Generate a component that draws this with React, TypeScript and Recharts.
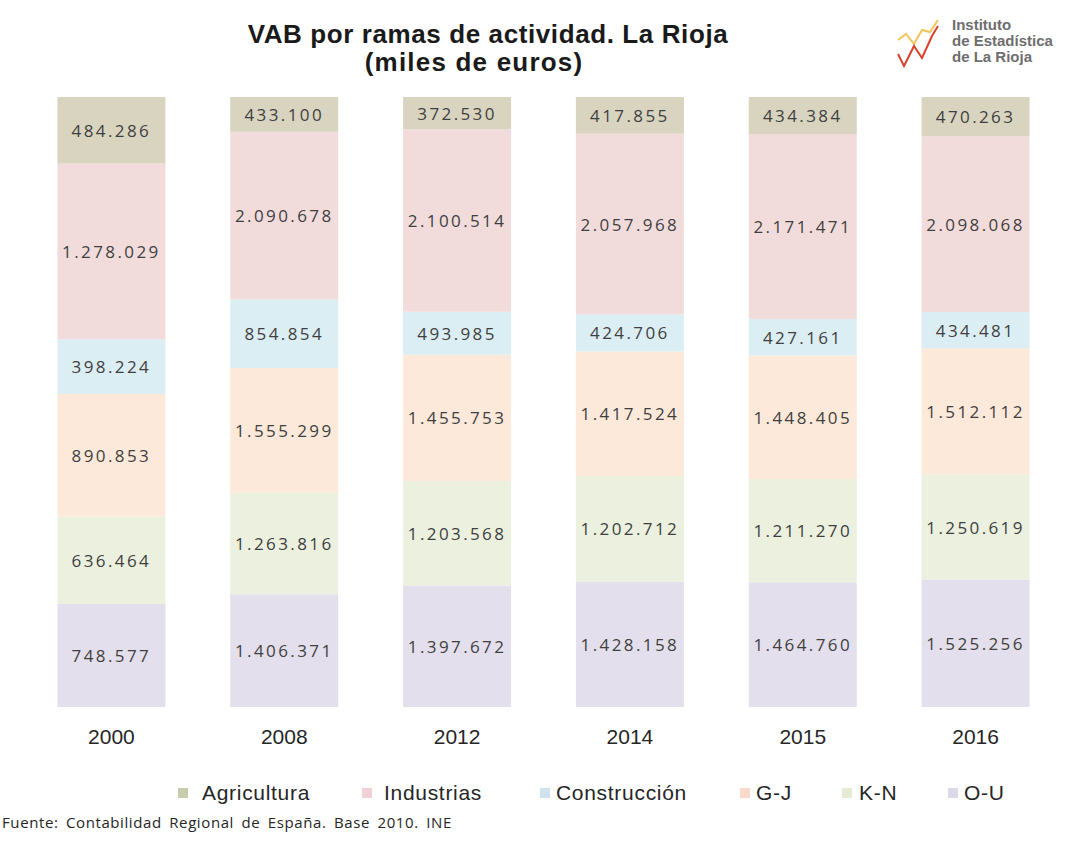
// Stacked 100% bar chart: VAB por ramas de actividad, La Rioja (miles de euros).
import { BarChart, Bar, XAxis, YAxis, LabelList } from "recharts";

const years = ["2000", "2008", "2012", "2014", "2015", "2016"];
const agricultura = [484286, 433100, 372530, 417855, 434384, 470263];
const industrias = [1278029, 2090678, 2100514, 2057968, 2171471, 2098068];
const construccion = [398224, 854854, 493985, 424706, 427161, 434481];
const gj = [890853, 1555299, 1455753, 1417524, 1448405, 1512112];
const kn = [636464, 1263816, 1203568, 1202712, 1211270, 1250619];
const ou = [748577, 1406371, 1397672, 1428158, 1464760, 1525256];

// bottom to top
const series = [
  { key: "ou", name: "O-U", values: ou, fill: "#E4DFEC", legend: "#DDD8E8" },
  { key: "kn", name: "K-N", values: kn, fill: "#EBF1DE", legend: "#E3EBD3" },
  { key: "gj", name: "G-J", values: gj, fill: "#FDE9DA", legend: "#F9D9CC" },
  { key: "cons", name: "Construcción", values: construccion, fill: "#DBEEF4", legend: "#CFE3EE" },
  { key: "ind", name: "Industrias", values: industrias, fill: "#F2DCDB", legend: "#F0D2D6" },
  { key: "agr", name: "Agricultura", values: agricultura, fill: "#D9D4C0", legend: "#C6CDAE" },
];

// legend layout (left to right: Agricultura ... O-U)
const legendMarkerX = [178, 362, 540, 740, 842, 948];
const legendTextX = [202, 384, 556, 756, 859, 964];

const data = years.map((year, i) => {
  const row: Record<string, string | number> = { year };
  series.forEach((s) => (row[s.key] = s.values[i]));
  return row;
});

const fmt = (v: number) => String(v).replace(/\B(?=(\d{3})+(?!\d))/g, ".");

const renderLabel = (props: any) => {
  const { x, y, width, height, value } = props;
  return (
    <text
      x={x + width / 2}
      y={y + height / 2}
      textAnchor="middle"
      dominantBaseline="central"
      fill="#3F3F3F"
      style={{ fontFamily: "'Open Sans', sans-serif", fontSize: 17, letterSpacing: 2.4 }}
    >
      {fmt(Number(value))}
    </text>
  );
};

const Logo = () => (
  <div style={{ position: "absolute", left: 896, top: 16, width: 175, height: 56 }}>
    <svg width={46} height={52} style={{ position: "absolute", left: 0, top: 2 }}>
      <polyline
        points="2,22 10,16 18,26 26,12 34,14 42,2"
        fill="none"
        stroke="#F3C45A"
        strokeWidth={2}
      />
      <polyline
        points="2,36 8,48 18,28 26,40 36,18 42,8"
        fill="none"
        stroke="#D9412B"
        strokeWidth={2}
      />
    </svg>
    <div
      style={{
        position: "absolute",
        left: 56,
        top: 1,
        fontFamily: "'Liberation Sans', Arial, sans-serif",
        fontWeight: "bold",
        fontSize: 15,
        lineHeight: "16px",
        color: "#6E6E6E",
        whiteSpace: "nowrap",
      }}
    >
      Instituto
      <br />
      de Estadística
      <br />
      de La Rioja
    </div>
  </div>
);

export default function App() {
  const legendItems = [...series].reverse();
  return (
    <div
      style={{
        position: "absolute",
        left: 0,
        top: 0,
        width: 1077,
        height: 843,
        background: "#FFFFFF",
        fontFamily: "'Liberation Sans', Arial, sans-serif",
      }}
    >
      <div
        style={{
          position: "absolute",
          left: 0,
          width: 976,
          top: 20,
          textAlign: "center",
          fontWeight: "bold",
          fontSize: 26,
          lineHeight: "28px",
          letterSpacing: 0.6,
          color: "#1A1A1A",
        }}
      >
        VAB por ramas de actividad. La Rioja
        <br />
        <span style={{ position: "relative", left: -14, letterSpacing: 1.2 }}>(miles de euros)</span>
      </div>
      <Logo />

      <div style={{ position: "absolute", left: 0, top: 0 }}>
        <BarChart
          width={1077}
          height={760}
          data={data}
          stackOffset="expand"
          barCategoryGap="18.75%"
          margin={{ top: 97, right: 15, bottom: 0, left: 25 }}
        >
          <XAxis
            dataKey="year"
            axisLine={false}
            tickLine={false}
            height={53}
            tickMargin={16}
            tick={{ fontSize: 21, fill: "#262626", fontFamily: "'Liberation Sans', Arial, sans-serif" }}
          />
          <YAxis hide domain={[0, 1]} />
          {series.map((s) => (
            <Bar key={s.key} dataKey={s.key} name={s.name} stackId="a" fill={s.fill} isAnimationActive={false}>
              <LabelList dataKey={s.key} content={renderLabel} />
            </Bar>
          ))}
        </BarChart>
      </div>

      {legendItems.map((s, i) => (
        <div key={s.key}>
          <span
            style={{
              position: "absolute",
              left: legendMarkerX[i],
              top: 788,
              width: 10,
              height: 10,
              background: s.legend,
            }}
          />
          <span
            style={{
              position: "absolute",
              left: legendTextX[i],
              top: 781,
              fontSize: 21,
              letterSpacing: 0.7,
              color: "#262626",
              whiteSpace: "nowrap",
            }}
          >
            {s.name}
          </span>
        </div>
      ))}

      <div
        style={{
          position: "absolute",
          left: 2,
          top: 812,
          fontFamily: "'Open Sans', sans-serif",
          fontSize: 15,
          letterSpacing: 0.6,
          wordSpacing: 3,
          color: "#262626",
        }}
      >
        Fuente: Contabilidad Regional de España. Base 2010. INE
      </div>
    </div>
  );
}
